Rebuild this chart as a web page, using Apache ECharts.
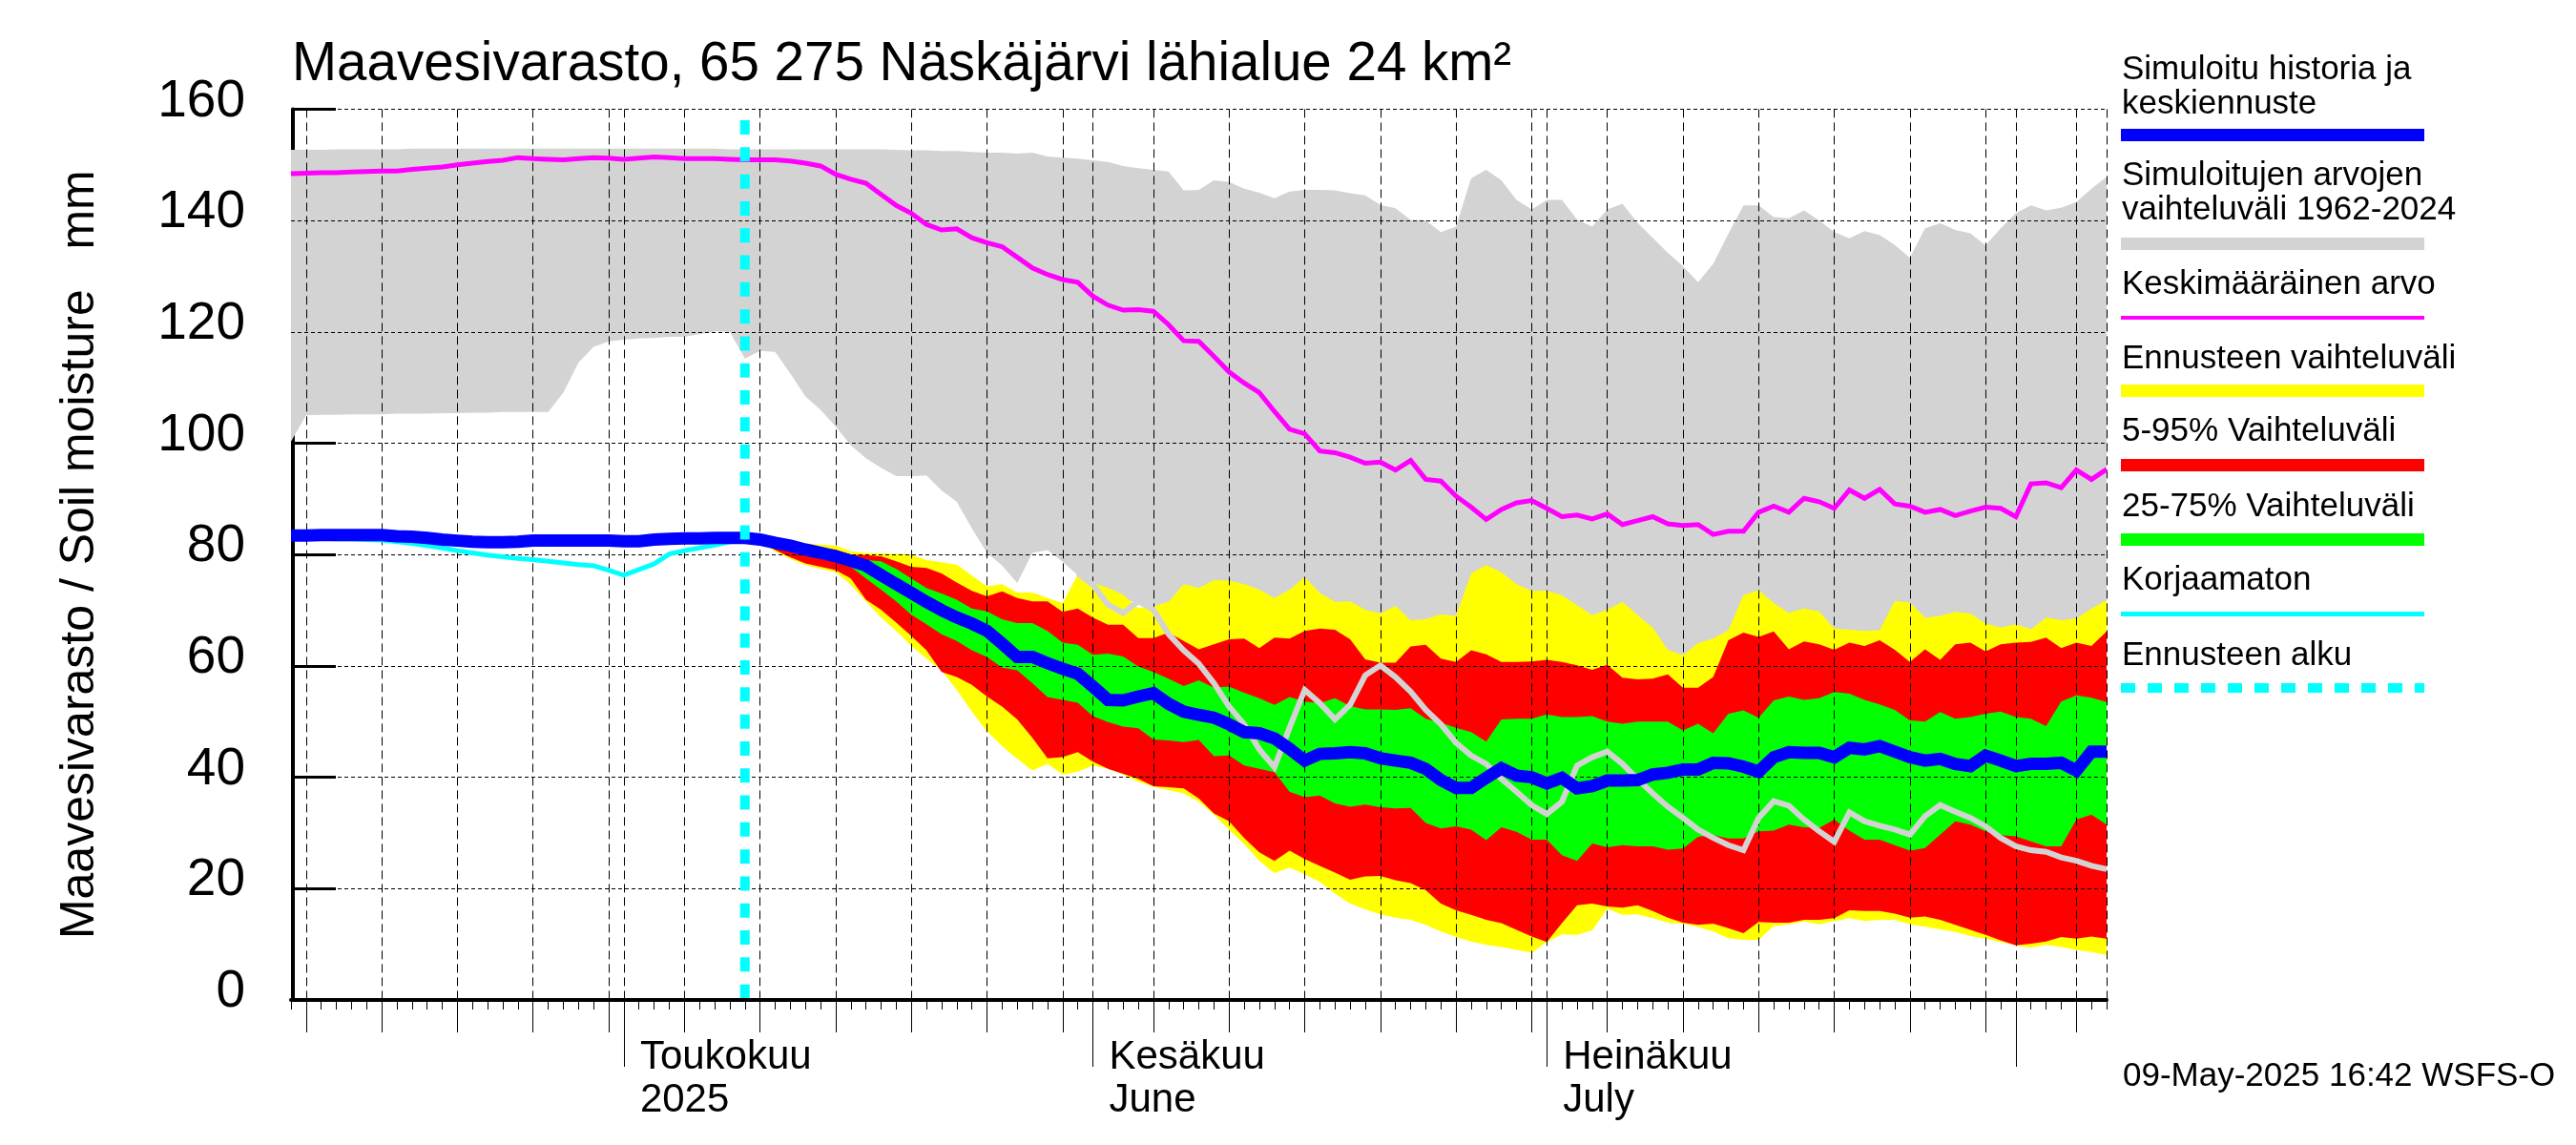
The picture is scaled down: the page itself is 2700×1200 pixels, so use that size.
<!DOCTYPE html>
<html>
<head>
<meta charset="utf-8">
<title>Maavesivarasto</title>
<script src="https://cdn.jsdelivr.net/npm/echarts@6/dist/echarts.min.js"></script>
<style>
  html, body { margin: 0; padding: 0; background: #fff; }
  #chart { width: 2700px; height: 1200px; }
</style>
</head>
<body>
<div id="chart"></div>
<script>
// one value per day, 9 Apr 2025 -> 7 Aug 2025
const dayCount = 121;
const forecastStartIndex = 30; // 9 May

const monthLabels = { '2025-05-01': 'Toukokuu\n2025', '2025-06-01': 'Kesäkuu\nJune', '2025-07-01': 'Heinäkuu\nJuly' };
const yTicks = [0, 20, 40, 60, 80, 100, 120, 140, 160];

const grayTop = [
  152.7,152.7,152.7,152.8,152.8,152.8,152.8,152.8,152.9,152.9,152.9,152.9,152.9,152.9,152.9,152.9,152.9,152.9,152.9,152.9,
  152.9,152.9,152.9,152.9,152.9,152.9,152.9,152.9,152.9,152.8,152.8,152.8,152.8,152.8,152.8,152.8,152.8,152.8,152.8,152.8,
  152.7,152.6,152.6,152.5,152.5,152.3,152.2,152.2,152,152.2,151.5,151.3,151.1,150.8,150.5,149.8,149.4,149.1,148.8,145.4,
  145.5,147.2,146.9,145.7,145,144,145.2,145.5,145.5,145.4,144.9,144.5,142.8,142.2,140.1,140,137.9,138.9,147.6,149.1,
  147.2,143.7,142,143.7,143.7,140.2,138.9,142,143,139.6,136.9,134.2,131.8,128.9,132.2,137.6,142.7,142.7,140.6,140.4,
  141.8,140,137.9,136.8,138.1,137.4,135.6,133.3,138.6,139.5,138.3,137.7,135.5,138.6,141.3,142.7,141.8,142.3,143.3,145.7,147.8
];
// below about 70 the lower edge runs hidden under the yellow band, those are estimates
const grayBottom = [
  100.3,105,105.1,105.1,105.2,105.2,105.2,105.3,105.3,105.3,105.4,105.4,105.5,105.5,105.6,105.6,105.6,105.6,109.1,114.5,
  117.3,118.3,118.6,118.8,118.9,119.1,119.1,119.6,120.1,120,115.2,116.6,116.4,112.5,108.4,106,103,99.6,97.3,95.6,
  94.1,94.1,94.2,91.5,89.5,84.7,80.3,78,74.9,80.3,80.8,78.7,76.3,73.5,72,71.5,71.6,70.8,68,67,
  66,65,64,64,63,63,62,62,62,62,62,62,62,62,62,62,62,62,62,62,
  62,62,62,62,62,62,62,62,62,62,60,59,58,58,60,62,62,62,62,62,
  62,62,62,62,62,62,62,62,62,62,62,62,62,62,62,62,62,62,62,62,62
];
const meanValue = [
  148.4,148.5,148.6,148.6,148.7,148.8,148.9,148.9,149.2,149.4,149.6,150,150.3,150.6,150.8,151.3,151.1,151,150.9,151.1,
  151.3,151.2,151,151.2,151.4,151.3,151.1,151.1,151.1,151,150.9,150.9,150.9,150.7,150.3,149.8,148.3,147.4,146.7,144.7,
  142.7,141.3,139.3,138.3,138.5,136.9,136,135.3,133.4,131.5,130.3,129.4,128.9,126.4,124.8,123.9,124,123.7,121.3,118.4,
  118.3,115.6,112.8,110.8,109.1,105.7,102.5,101.7,98.6,98.3,97.5,96.4,96.6,95.2,96.9,93.5,93.2,90.5,88.5,86.3,
  88.1,89.3,89.7,88.3,86.8,87.1,86.4,87.3,85.4,86.1,86.8,85.5,85.2,85.4,83.6,84.2,84.2,87.6,88.7,87.6,
  90.1,89.5,88.3,91.6,90.1,91.7,89.1,88.7,87.6,88.1,87,87.8,88.5,88.3,86.8,92.7,92.9,92,95.2,93.5,95.3
];
const simulated = [
  83.4,83.4,83.5,83.5,83.5,83.5,83.5,83.3,83.2,83,82.7,82.5,82.3,82.2,82.2,82.3,82.5,82.5,82.5,82.5,
  82.5,82.5,82.4,82.4,82.7,82.8,82.9,82.9,83,83,83,82.7,82.1,81.6,80.9,80.3,79.7,78.9,78,76.3,
  74.7,73.1,71.5,70,68.7,67.6,66.3,64,61.6,61.6,60.5,59.5,58.6,56.3,53.9,53.8,54.5,55.1,53.2,51.8,
  51.2,50.7,49.5,48.1,47.9,47,45.1,43,44.2,44.3,44.5,44.3,43.4,43,42.6,41.5,39.5,38.1,38.1,39.9,
  41.6,40.3,40,38.9,39.9,38,38.4,39.4,39.4,39.5,40.5,40.8,41.4,41.4,42.6,42.5,41.9,41,43.6,44.5,
  44.4,44.4,43.6,45.3,45,45.6,44.6,43.6,43,43.3,42.4,42,43.9,43,42,42.4,42.4,42.6,41.2,44.6,44.6
];
const uncorrected = [
  82.9,82.9,82.9,82.8,82.8,82.7,82.6,82.3,82,81.6,81.2,80.7,80.3,79.9,79.6,79.3,79.1,78.8,78.5,78.2,
  78,77.2,76.3,77.3,78.3,80.1,80.7,81.2,81.7,82.3,82.8
];
// forecast series, from 9 May on
const yellowHigh = [
  83,82.9,82.6,82.3,82,81.8,81.6,80.6,80.3,80.2,80.1,80,79,78.6,78.2,76.2,74.3,74.7,73.2,73.2,
  72.2,71.3,76.4,75,74,72.8,70.4,70.7,71.5,74.7,74,75.4,75.3,74.7,73.7,72.2,73.7,75.9,73.1,71.5,
  71.6,70.1,69.4,70.8,68.2,68.4,69.3,69,76.6,78.1,76.8,74.7,73.5,73.5,72.7,70.9,69.1,70.1,71.5,69.1,
  66.9,62.9,61.9,64.1,64.9,66.4,72.7,73.6,71.3,69.5,70.3,69.8,66.7,66.5,66.3,66.4,71.7,71.4,68.7,69,
  69.7,69.4,67.6,66.9,67.5,66.6,68.7,68.2,68.5,70.3,71.8
];
const redHigh = [
  83,82.8,82.4,82,81.5,81.2,80.9,80,79.9,79.7,78.8,77.8,77.6,76.6,75,73.5,72.5,73.4,72.2,71.6,
  71.6,69.7,70.3,68.7,67.4,67.4,65,65,66,64.5,63,63.9,64.8,64.9,63.2,65.1,64.9,66.3,66.7,66.5,
  64.8,61.2,60.6,60.6,63.5,63.8,61.3,60.7,62.8,62.1,60.7,60.7,60.8,61.1,60.7,60.1,59.3,60.2,57.9,57.6,
  57.7,58.5,56.1,56.1,58,64.6,66,65.2,66.2,63,64.4,63.9,62.9,64.2,63.6,64.6,62.9,60.7,63,61.1,
  63.9,64.2,62.6,63.9,64.2,64.3,65.1,63.2,64.2,63.6,66.2
];
const greenHigh = [
  83,82.7,82.2,81.6,81.1,80.5,80,79.5,79,78.8,77.4,75.7,74,73,71.9,70.3,69.8,68.4,67.7,67.7,
  66.3,64.2,63.8,62,62.2,61.7,59.9,58.9,57.7,56.4,57.4,56.1,56.3,55.2,54.2,53,54.4,53.6,53.3,54.2,
  52.8,52.2,52.2,52.1,52.4,50.5,49.8,48.9,48.1,46.4,50.4,50.5,50.5,51.3,50.8,50.8,51,50,49.6,50,
  50,50,48.4,49.6,47.9,51.4,52,50.7,53.8,54.5,53.9,54.2,55.3,55,53.9,53.1,52.1,50.2,50,51.7,
  50.5,50.8,51.4,51.8,50.8,50.5,49.2,53.6,54.7,54.3,53.5
];
const greenLow = [
  83,82.6,82,81.2,80.6,79.9,79,77.8,75.7,73.7,71.6,69.2,67.5,65.7,64.5,62.8,61.6,59.7,59.2,56.9,
  54.4,53.9,53.4,51,49.9,49.1,48.8,46.8,46.6,46.3,46.7,43.8,43.9,42.1,41.5,40.9,37.4,36.4,36.7,35.3,
  34.7,35.1,34.6,34.4,34.5,31.8,30.8,31.2,30.6,28.7,31,30.2,28.8,28.8,26,25,28.1,27.4,27.8,27.6,
  27.6,27,27.2,29.3,29.6,29,29,30.3,30.4,31.5,31,30.9,32.4,30.4,28.8,28.8,27.8,26.8,27.3,29.7,
  32.1,31.5,30.3,29.6,29.4,28.5,27.6,27.6,32.4,33.3,31.5
];
const redLow = [
  83,82.4,80.8,79.5,78.4,77.8,77.2,75.7,71.9,70.1,67.8,65.4,62.8,58.9,58,56.6,54.5,52.7,50.4,47.1,
  43.4,43.6,44.5,42.8,41.5,40.6,39.7,38.4,38.2,38,36.2,33.5,32.1,29.1,26.5,25,26.8,25.3,24.1,22.9,
  21.6,22.2,22.3,21.5,21,19.7,17.3,16.1,15.3,14.4,13.8,12.6,11.4,10.4,13.8,17,17.3,16.8,16.6,17,
  16,14.8,13.9,13.5,13.7,12.9,12,14,13.9,13.9,14.4,14.4,14.7,16.1,16,16,15.5,14.8,15,14.4,
  13.5,12.6,11.7,10.7,9.8,10.1,10.5,11.3,11,11.4,11
];
const yellowLow = [
  83,82.3,80.6,79.2,78.1,77.4,76.8,74.6,71.6,68.7,66.3,63.6,61.3,59.2,55.7,51.8,48.3,45.6,43.3,41.2,
  42.4,40.5,41,42.1,41.5,40.5,39.2,38.3,37.7,37.1,35.6,33.3,30.6,28,25,22.8,23.8,22.6,21.2,19.1,
  17.3,16.3,15.4,14.8,14.4,13.5,12.3,11.3,10.5,9.9,9.5,9,8.5,10.4,11.8,11.7,12.5,16.4,15.3,15.4,
  14.7,13.9,13.7,13.1,12.3,11.1,10.8,10.8,13.3,13.6,14.1,13.6,14.2,14.7,14.2,14.4,14.4,13.6,13.2,12.7,
  12.2,11.5,11,10.4,9.8,9.4,9.9,9.5,9,8.6,8.1
];
// from 31 May on, the part before that stays inside the gray band
const grayLineStart = 52;
const grayLine = [
  76.6,74.6,71,69.5,71.6,70.1,65.7,62.8,60.4,56.9,52.7,49.5,45,41.8,48.9,55.7,53.3,50.4,53,58.3,
  60.1,58,55.4,52.1,49.5,46.2,43.9,42.4,39.7,37.4,35,33.4,35.6,42.1,43.6,44.6,42.4,39.7,37.1,34.7,
  32.7,30.6,29.1,27.8,26.9,32.7,35.7,34.9,32.4,30.3,28.4,33.7,32.1,31.3,30.6,29.7,33,35,33.8,32.7,
  31.2,29.1,27.6,26.9,26.6,25.6,25,24.1,23.5
];
const forecastLine = [[forecastStartIndex, 158], [forecastStartIndex, 0]];

const legendItems = [
  { lines: ['Simuloitu historia ja', 'keskiennuste'], color: '#0000ff', baseline: 85, swatch: [135, 13] },
  { lines: ['Simuloitujen arvojen', 'vaihteluväli 1962-2024'], color: '#d3d3d3', baseline: 196, swatch: [249, 13] },
  { lines: ['Keskimääräinen arvo'], color: '#ff00ff', baseline: 310, swatch: [331, 4] },
  { lines: ['Ennusteen vaihteluväli'], color: '#ffff00', baseline: 388, swatch: [403, 13] },
  { lines: ['5-95% Vaihteluväli'], color: '#ff0000', baseline: 464, swatch: [481, 13] },
  { lines: ['25-75% Vaihteluväli'], color: '#00ff00', baseline: 543, swatch: [559, 13] },
  { lines: ['Korjaamaton'], color: '#00ffff', baseline: 620, swatch: [641, 5] },
  { lines: ['Ennusteen alku'], color: '#00ffff', baseline: 699, swatch: [716, 10], dashed: true }
];

const fontName = '"Liberation Sans", Arial, sans-serif';

const categories = [];
for (let i = 0; i < dayCount; i++) {
  categories.push(new Date(Date.UTC(2025, 3, 9 + i)).toISOString().slice(0, 10));
}
const dayOfMonth = (value) => parseInt(value.slice(8), 10);
const isMonthStart = (value) => dayOfMonth(value) === 1;
const isTickDay = (index, value) => isMonthStart(value) || (dayOfMonth(value) % 5 === 0);
const isGridDay = (index, value) => isTickDay(index, value) || index === dayCount - 1;

// band = invisible lower line + difference stacked on it
function bandSeries(name, lows, highs, color, start) {
  const pad = new Array(start).fill(null);
  const common = { type: 'line', stack: name, symbol: 'none', silent: true, z: 1, lineStyle: { width: 0 } };
  return [
    Object.assign({}, common, { name: name + ' low', data: pad.concat(lows) }),
    Object.assign({}, common, {
      name: name,
      data: pad.concat(highs.map((h, i) => h - lows[i])),
      areaStyle: { color: color, opacity: 1 }
    })
  ];
}

function lineSeries(name, data, color, width, extra) {
  return Object.assign({
    name: name, type: 'line', data: data, symbol: 'none', silent: true, z: 3,
    lineStyle: { color: color, width: width, cap: 'butt', join: 'miter' }
  }, extra || {});
}

function legendGraphic() {
  const els = [];
  const x0 = 2223, x1 = 2541;
  legendItems.forEach((item) => {
    item.lines.forEach((line, i) => {
      els.push({
        type: 'text', left: x0 + 1, top: item.baseline + i * 36 - 29, silent: true,
        style: { text: line, font: '35px ' + fontName, fill: '#000' }
      });
    });
    if (item.dashed) {
      for (let x = x0; x < x1; x += 28) {
        els.push({ type: 'rect', silent: true, shape: { x: x, y: item.swatch[0], width: Math.min(15, x1 - x), height: item.swatch[1] }, style: { fill: item.color } });
      }
    } else {
      els.push({ type: 'rect', silent: true, shape: { x: x0, y: item.swatch[0], width: x1 - x0, height: item.swatch[1] }, style: { fill: item.color } });
    }
  });
  els.push({
    type: 'text', left: 2225, top: 1111, silent: true,
    style: { text: '09-May-2025 16:42 WSFS-O', font: '35px ' + fontName, fill: '#000' }
  });
  return els;
}

const chart = echarts.init(document.getElementById('chart'), null, { renderer: 'canvas' });
chart.setOption({
  animation: false,
  backgroundColor: '#fff',
  textStyle: { fontFamily: fontName },
  title: {
    text: 'Maavesivarasto, 65 275 Näskäjärvi lähialue 24 km²',
    left: 306, top: 40,
    padding: 0,
    textStyle: { fontSize: 56.5, fontWeight: 'normal', color: '#000', fontFamily: fontName }
  },
  graphic: legendGraphic(),
  grid: { left: 305, right: 492, top: 114.4, bottom: 152 },
  xAxis: [
    { // daily ticks and the heavy base line
      type: 'category', data: categories, boundaryGap: false, position: 'bottom', z: 4,
      axisLine: { show: true, lineStyle: { color: '#000', width: 4 } },
      axisTick: { show: true, interval: 0, length: 10, lineStyle: { color: '#000', width: 1 } },
      axisLabel: { show: false }, splitLine: { show: false }
    },
    { // 5-day ticks and the dashed grid
      type: 'category', data: categories, boundaryGap: false, position: 'bottom', z: 2,
      axisLine: { show: false },
      axisTick: { show: true, interval: isTickDay, length: 34, lineStyle: { color: '#000', width: 1 } },
      axisLabel: { show: false },
      splitLine: { show: true, interval: isGridDay, lineStyle: { color: '#000', width: 1, type: [9, 5] } }
    },
    { // month ticks and labels
      type: 'category', data: categories, boundaryGap: false, position: 'bottom', z: 2,
      axisLine: { show: false },
      axisTick: { show: true, interval: (i, v) => isMonthStart(v), length: 70, lineStyle: { color: '#000', width: 1 } },
      axisLabel: {
        show: true, interval: (i, v) => isMonthStart(v) && !!monthLabels[v],
        formatter: (v) => monthLabels[v] || '',
        align: 'left', verticalAlign: 'top', margin: 38, padding: [0, 0, 0, 17],
        fontSize: 42, lineHeight: 45, color: '#000', fontFamily: fontName
      },
      splitLine: { show: false }
    }
  ],
  yAxis: [
    { // axis line, heavy ticks and labels sit under the bands
      type: 'value', min: yTicks[0], max: yTicks[yTicks.length - 1], interval: 20, position: 'left', offset: -2, z: 0,
      axisLine: { show: true, lineStyle: { color: '#000', width: 4 } },
      axisTick: { show: true, inside: true, length: 45, lineStyle: { color: '#000', width: 3 } },
      axisLabel: { show: true, fontSize: 55, color: '#000', margin: 50, verticalAlign: 'bottom', lineHeight: 16, fontFamily: fontName },
      splitLine: { show: false },
      name: 'Maavesivarasto / Soil moisture   mm', nameLocation: 'middle', nameRotate: 90, nameGap: 198,
      nameTextStyle: { fontSize: 50, color: '#000', fontFamily: fontName }
    },
    { // dashed horizontal grid over the bands
      type: 'value', min: yTicks[0], max: yTicks[yTicks.length - 1], interval: 20, position: 'left', z: 2,
      axisLine: { show: false }, axisTick: { show: false }, axisLabel: { show: false },
      splitLine: { show: true, lineStyle: { color: '#000', width: 1, type: [4, 3] } }
    }
  ],
  series: [].concat(
    bandSeries('Simuloitujen arvojen vaihteluväli', grayBottom, grayTop, '#d3d3d3', 0),
    bandSeries('Ennusteen vaihteluväli', yellowLow, yellowHigh, '#ffff00', forecastStartIndex),
    bandSeries('5-95% Vaihteluväli', redLow, redHigh, '#ff0000', forecastStartIndex),
    bandSeries('25-75% Vaihteluväli', greenLow, greenHigh, '#00ff00', forecastStartIndex),
    [
      lineSeries('Keskimääräinen arvo', meanValue, '#ff00ff', 5),
      lineSeries('Korjaamaton', uncorrected, '#00ffff', 5),
      lineSeries('Harmaa viiva', new Array(grayLineStart).fill(null).concat(grayLine), '#d3d3d3', 6),
      lineSeries('Simuloitu historia ja keskiennuste', simulated, '#0000ff', 13),
      lineSeries('Ennusteen alku', forecastLine, '#00ffff', 10, {
        lineStyle: { color: '#00ffff', width: 10, type: [15, 13.3], cap: 'butt' }
      })
    ]
  )
});
</script>
</body>
</html>
